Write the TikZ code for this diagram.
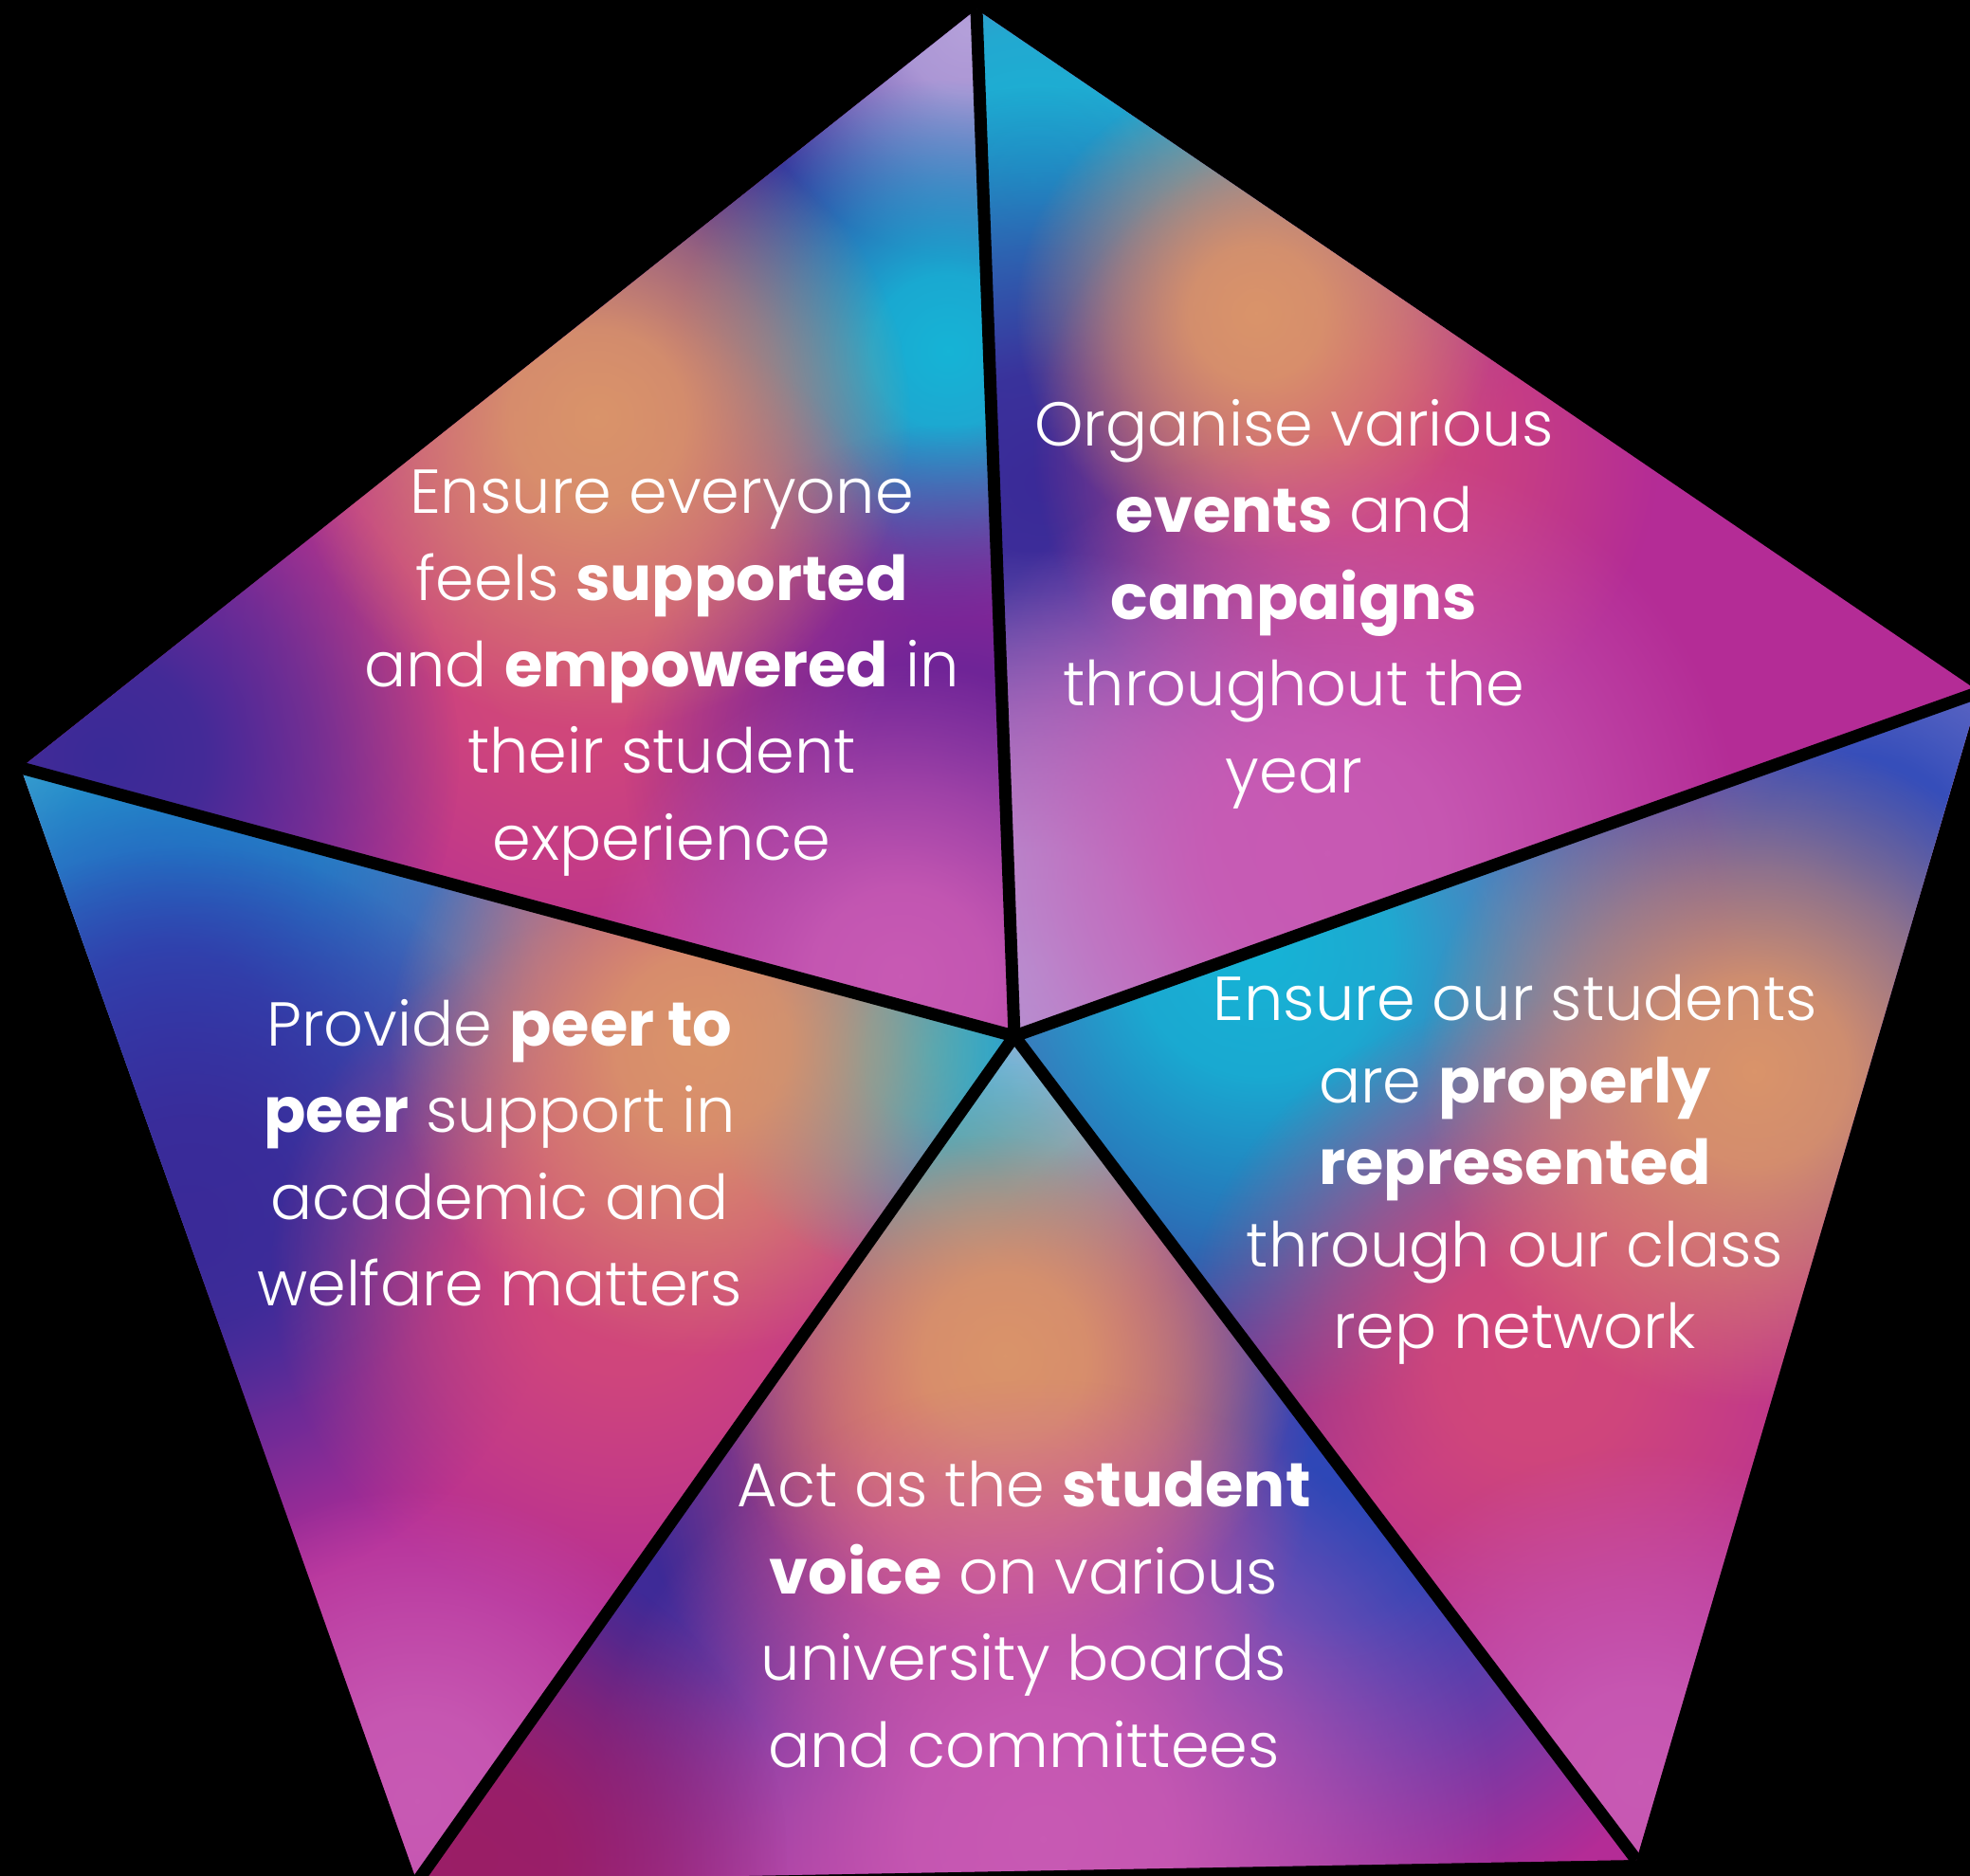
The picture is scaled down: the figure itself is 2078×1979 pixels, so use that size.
\documentclass[tikz,border=0pt]{standalone}
\usepackage{fontspec}
\setmainfont{Poppins}[UprightFont={* Light},BoldFont={* Bold}]
\usetikzlibrary{fadings}
\pgfdeclareradialshading{blobshade}{\pgfpointorigin}{color(0bp)=(transparent!0); color(7bp)=(transparent!8); color(15bp)=(transparent!45); color(25bp)=(transparent!100); color(50bp)=(transparent!100)}
\pgfdeclarefading{softblob}{\pgfuseshading{blobshade}}

\definecolor{lav}{HTML}{B4A0DA}
\definecolor{indigo}{HTML}{3A2A98}
\definecolor{bluish}{HTML}{2C48B8}
\definecolor{cyanish}{HTML}{16B4D6}
\definecolor{orangy}{HTML}{DA946A}
\definecolor{rose}{HTML}{D2487A}
\definecolor{violet}{HTML}{6A2498}
\definecolor{magbase}{HTML}{B42C96}
\definecolor{pinklight}{HTML}{C85AB4}
\definecolor{greyblue}{HTML}{AEB8D6}
\definecolor{deepmag}{HTML}{9A1E66}

% x y radius colour
\newcommand{\blob}[4]{\fill[#4, path fading=softblob] (#1,#2) circle ({2.2*#3});}

\begin{document}
\begin{tikzpicture}[
    x=0.01cm, y=-0.01cm,
    blurb/.style={text=white, align=center, inner sep=0pt, font=\fontsize{18.6}{26}\selectfont},
    sep/.style={draw=black, line width=3.7pt}
  ]
    \fill[black] (0,0) rectangle (2078,1979);
    \useasboundingbox (0,0) rectangle (2078,1979);
    \coordinate (T) at (1030,10);
    \coordinate (R) at (2088,730);
    \coordinate (BR) at (1726,1962);
    \coordinate (BL) at (440,1985);
    \coordinate (L) at (22,810);
    \coordinate (C) at (1070,1093);

    \begin{scope}
      \clip (T) -- (L) -- (C) -- cycle;
      \fill[magbase] (0,0) rectangle (2078,1979);
      \blob{880}{190}{220}{indigo}
      \blob{1020}{30}{110}{lav}
      \blob{1000}{370}{130}{cyanish}
      \blob{600}{690}{170}{rose}
      \blob{110}{800}{170}{indigo}
      \blob{1010}{800}{160}{violet}
      \blob{950}{1030}{150}{pinklight}
      \blob{630}{440}{150}{orangy}
    \end{scope}
    \begin{scope}
      \clip (T) -- (R) -- (C) -- cycle;
      \fill[magbase] (0,0) rectangle (2078,1979);
      \blob{1090}{190}{250}{cyanish}
      \blob{1100}{510}{190}{indigo}
      \blob{1420}{470}{150}{rose}
      \blob{1325}{330}{115}{orangy}
      \blob{1090}{1020}{200}{lav}
      \blob{1400}{900}{200}{pinklight}
    \end{scope}
    \begin{scope}
      \clip (C) -- (R) -- (BR) -- cycle;
      \fill[magbase] (0,0) rectangle (2078,1979);
      \blob{2040}{780}{140}{lav}
      \blob{1960}{920}{200}{bluish}
      \blob{1280}{1220}{180}{indigo}
      \blob{1330}{1000}{220}{cyanish}
      \blob{1620}{1430}{170}{rose}
      \blob{1850}{1130}{160}{orangy}
      \blob{1730}{1880}{160}{pinklight}
    \end{scope}
    \begin{scope}
      \clip (C) -- (BR) -- (BL) -- cycle;
      \fill[magbase] (0,0) rectangle (2078,1979);
      \blob{1075}{1150}{120}{greyblue}
      \blob{1000}{1270}{100}{cyanish}
      \blob{1400}{1580}{210}{bluish}
      \blob{740}{1640}{200}{indigo}
      \blob{1030}{1550}{160}{rose}
      \blob{1060}{1430}{140}{orangy}
      \blob{1100}{1940}{220}{pinklight}
      \blob{500}{1960}{150}{deepmag}
    \end{scope}
    \begin{scope}
      \clip (L) -- (C) -- (BL) -- cycle;
      \fill[magbase] (0,0) rectangle (2078,1979);
      \blob{50}{830}{120}{greyblue}
      \blob{200}{910}{220}{cyanish}
      \blob{180}{1110}{180}{bluish}
      \blob{200}{1290}{180}{indigo}
      \blob{660}{1340}{170}{rose}
      \blob{980}{1110}{110}{cyanish}
      \blob{740}{1100}{150}{orangy}
      \blob{440}{1900}{150}{pinklight}
    \end{scope}

    \draw[sep] (C) -- (T);
    \draw[sep] (C) -- (R);
    \draw[sep] (C) -- (BR);
    \draw[sep] (C) -- (BL);
    \draw[sep] (C) -- (L);

    \node[blurb] (support) at (698,710) {Ensure everyone\\feels \textbf{supported}\\and \textbf{empowered} in\\their student\\experience};
    \node[blurb] (events) at (1365,637) {Organise various\\\textbf{events} and\\\textbf{campaigns}\\throughout the\\year};
    \node[blurb, font=\fontsize{18.6}{24.6}\selectfont] (reps) at (1598,1234) {Ensure our students\\are \textbf{properly}\\\textbf{represented}\\through our class\\rep network};
    \node[blurb] (peer) at (527,1216) {Provide \textbf{peer to}\\\textbf{peer} support in\\academic and\\welfare matters};
    \node[blurb] (voice) at (1080,1703) {Act as the \textbf{student}\\\textbf{voice} on various\\university boards\\and committees};
  \end{tikzpicture}
\end{document}
